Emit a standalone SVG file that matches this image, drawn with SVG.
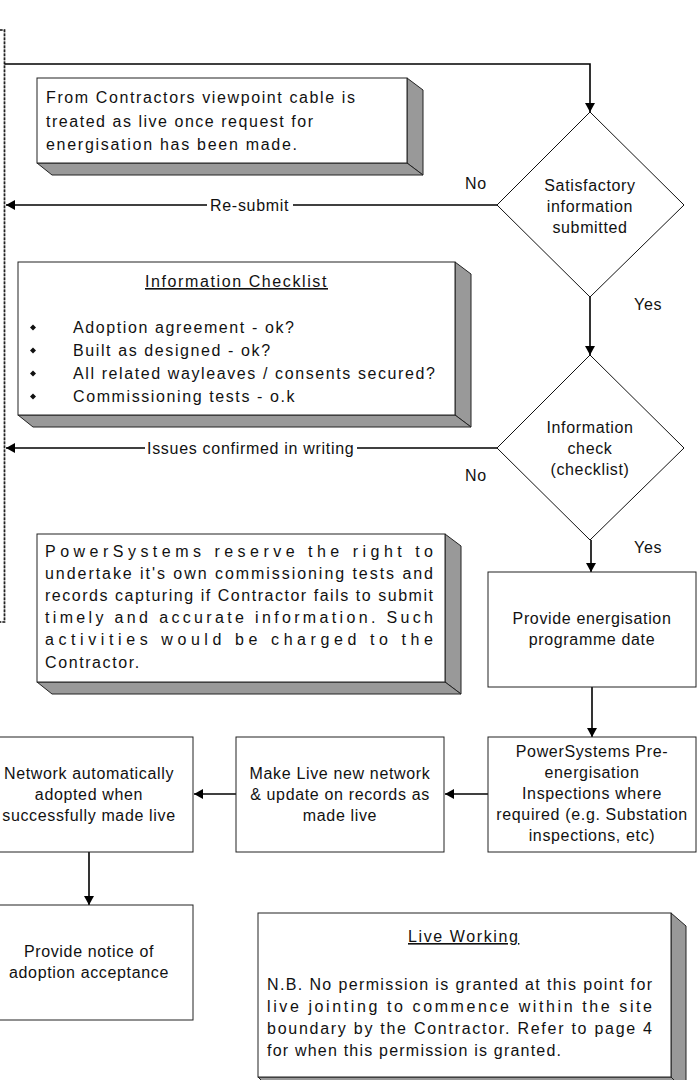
<svg xmlns="http://www.w3.org/2000/svg" width="698" height="1080" viewBox="0 0 698 1080">
  <style>
    text { font-family: "Liberation Sans", Arial, sans-serif; font-size: 16px; fill: #111; }
    .c { text-anchor: middle; letter-spacing: 0.65px; }
    .lbl { letter-spacing: 0.7px; }
    .note { letter-spacing: 1.6px; }
    .ul { text-decoration: underline; }
    .box { fill: #fff; stroke: #222; stroke-width: 1; }
    .shadow { fill: #999; stroke: #222; stroke-width: 1; stroke-linejoin: round; }
    .dia { fill: #fff; stroke: #111; stroke-width: 1; }
    .conn { fill: none; stroke: #000; stroke-width: 1.6; }
    .dashbg { fill: none; stroke: #aaa; stroke-width: 1.6; }
    .dash { fill: none; stroke: #222; stroke-width: 1.6; stroke-dasharray: 2.5 1.5; }
    .bullet { fill: #111; }
  </style>
  <defs>
    <marker id="arr" markerUnits="userSpaceOnUse" viewBox="0 0 9 10" markerWidth="9" markerHeight="10" refX="9" refY="5" orient="auto">
      <path d="M0,0 L9,5 L0,10 z" fill="#000"/>
    </marker>
  </defs>

  <!-- dashed boundary -->
  <g id="boundary">
    <path class="dashbg" d="M0,30 H4.5 V622 H0"/>
    <path class="dash" d="M0,30 H4.5 V622 H0"/>
  </g>

  <!-- connectors -->
  <g id="connectors">
    <path class="conn" d="M4.5,64 H590 V112" marker-end="url(#arr)"/>
    <path class="conn" d="M497,205 H293"/>
    <path class="conn" d="M207,205 H6" marker-end="url(#arr)"/>
    <path class="conn" d="M497,448 H357"/>
    <path class="conn" d="M145,448 H6" marker-end="url(#arr)"/>
    <path class="conn" d="M590,297 V355" marker-end="url(#arr)"/>
    <path class="conn" d="M591,540 V572" marker-end="url(#arr)"/>
    <path class="conn" d="M592,687 V737" marker-end="url(#arr)"/>
    <path class="conn" d="M488,794 H445" marker-end="url(#arr)"/>
    <path class="conn" d="M236,794 H194" marker-end="url(#arr)"/>
    <path class="conn" d="M89,852 V905" marker-end="url(#arr)"/>
  </g>

  <!-- connector labels -->
  <g id="labels">
    <text class="lbl" x="210" y="211">Re-submit</text>
    <text class="lbl" x="147" y="454">Issues confirmed in writing</text>
    <text class="lbl" x="465" y="189">No</text>
    <text class="lbl" x="634" y="310">Yes</text>
    <text class="lbl" x="465" y="481">No</text>
    <text class="lbl" x="634" y="553">Yes</text>
  </g>

  <!-- note: contractors viewpoint -->
  <g id="note-contractors">
    <polygon class="shadow" points="407,78 423,90 423,175 407,163"/>
    <polygon class="shadow" points="37,163 407,163 423,175 52,175"/>
    <rect class="box" x="37" y="78" width="370" height="85"/>
    <text x="46" y="103" textLength="309" lengthAdjust="spacing">From Contractors viewpoint cable is</text>
    <text x="46" y="126.5" textLength="267" lengthAdjust="spacing">treated as live once request for</text>
    <text x="46" y="150" textLength="251" lengthAdjust="spacing">energisation has been made.</text>
  </g>

  <!-- decision 1 -->
  <g id="decision-satisfactory">
    <polygon class="dia" points="590,112 684,205 590,297 497,205"/>
    <text class="c" x="590" y="191">Satisfactory</text>
    <text class="c" x="590" y="212">information</text>
    <text class="c" x="590" y="233">submitted</text>
  </g>

  <!-- note: information checklist -->
  <g id="note-checklist">
    <polygon class="shadow" points="455,262 471,274 471,427 455,415"/>
    <polygon class="shadow" points="18,415 455,415 471,427 33,427"/>
    <rect class="box" x="18" y="262" width="437" height="153"/>
    <text class="note ul" x="145" y="287">Information Checklist</text>
    <polygon class="bullet" points="33,324.5 36,327.5 33,330.5 30,327.5"/>
    <polygon class="bullet" points="33,347.5 36,350.5 33,353.5 30,350.5"/>
    <polygon class="bullet" points="33,370.5 36,373.5 33,376.5 30,373.5"/>
    <polygon class="bullet" points="33,393.5 36,396.5 33,399.5 30,396.5"/>
    <text class="note" x="73" y="333">Adoption agreement - ok?</text>
    <text class="note" x="73" y="356">Built as designed - ok?</text>
    <text class="note" x="73" y="379">All related wayleaves / consents secured?</text>
    <text class="note" x="73" y="402">Commissioning tests - o.k</text>
  </g>

  <!-- decision 2 -->
  <g id="decision-check">
    <polygon class="dia" points="590,355 684,448 590,540 497,448"/>
    <text class="c" x="590" y="433">Information</text>
    <text class="c" x="590" y="454">check</text>
    <text class="c" x="590" y="475">(checklist)</text>
  </g>

  <!-- note: PowerSystems reserve -->
  <g id="note-reserve">
    <polygon class="shadow" points="445,534 461,546 461,694 445,682"/>
    <polygon class="shadow" points="37,682 445,682 461,694 52,694"/>
    <rect class="box" x="37" y="534" width="408" height="148"/>
    <text x="45" y="557" textLength="388" lengthAdjust="spacing">PowerSystems reserve the right to</text>
    <text x="45" y="579" textLength="388" lengthAdjust="spacing">undertake it's own commissioning tests and</text>
    <text x="45" y="601" textLength="388" lengthAdjust="spacing">records capturing if Contractor fails to submit</text>
    <text x="45" y="623" textLength="388" lengthAdjust="spacing">timely and accurate information. Such</text>
    <text x="45" y="645" textLength="388" lengthAdjust="spacing">activities would be charged to the</text>
    <text class="note" x="45" y="668">Contractor.</text>
  </g>

  <!-- process: provide energisation programme date -->
  <g id="box-programme-date">
    <rect class="box" x="488" y="572" width="208" height="115"/>
    <text class="c" x="592" y="624">Provide energisation</text>
    <text class="c" x="592" y="645">programme date</text>
  </g>

  <!-- process: pre-energisation inspections -->
  <g id="box-inspections">
    <rect class="box" x="488" y="737" width="208" height="115"/>
    <text class="c" x="592" y="757">PowerSystems Pre-</text>
    <text class="c" x="592" y="778">energisation</text>
    <text class="c" x="592" y="799">Inspections where</text>
    <text class="c" x="592" y="820">required (e.g. Substation</text>
    <text class="c" x="592" y="841">inspections, etc)</text>
  </g>

  <!-- process: make live -->
  <g id="box-make-live">
    <rect class="box" x="236" y="737" width="208" height="115"/>
    <text class="c" x="340" y="779">Make Live new network</text>
    <text class="c" x="340" y="800">&amp; update on records as</text>
    <text class="c" x="340" y="821">made live</text>
  </g>

  <!-- process: network adopted -->
  <g id="box-network-adopted">
    <rect class="box" x="-15" y="737" width="208" height="115"/>
    <text class="c" x="89" y="779">Network automatically</text>
    <text class="c" x="89" y="800">adopted when</text>
    <text class="c" x="89" y="821">successfully made live</text>
  </g>

  <!-- process: provide notice -->
  <g id="box-notice">
    <rect class="box" x="-15" y="905" width="208" height="115"/>
    <text class="c" x="89" y="957">Provide notice of</text>
    <text class="c" x="89" y="978">adoption acceptance</text>
  </g>

  <!-- note: live working -->
  <g id="note-live-working">
    <polygon class="shadow" points="671,913 686,926 686,1092 671,1077"/>
    <polygon class="shadow" points="258,1077 671,1077 686,1092 273,1092"/>
    <rect class="box" x="258" y="913" width="413" height="164"/>
    <text class="note ul" x="408" y="942">Live Working</text>
    <text x="267" y="990" textLength="385" lengthAdjust="spacing">N.B. No permission is granted at this point for</text>
    <text x="267" y="1012" textLength="385" lengthAdjust="spacing">live jointing to commence within the site</text>
    <text x="267" y="1034" textLength="385" lengthAdjust="spacing">boundary by the Contractor. Refer to page 4</text>
    <text x="267" y="1056" textLength="294" lengthAdjust="spacing">for when this permission is granted.</text>
  </g>
</svg>
